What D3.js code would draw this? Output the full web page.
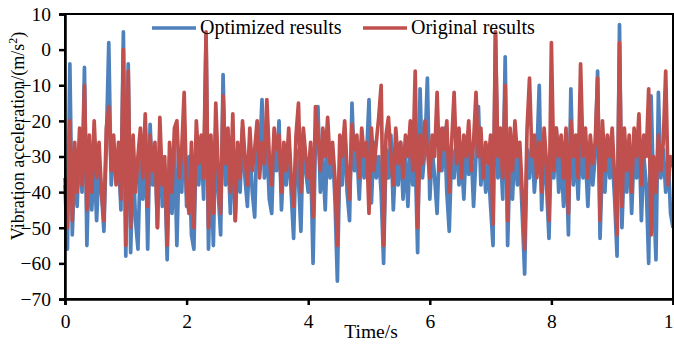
<!DOCTYPE html>
<html lang="en">
<head>
<meta charset="UTF-8">
<script src="https://cdn.jsdelivr.net/npm/d3@7"></script>
<style>
  body { margin: 0; background: #fff; }
  text { font-family: "Liberation Serif", "Times New Roman", serif; fill: #000; }
</style>
<title>vibration</title>
</head>
<body>
<svg width="674" height="348"></svg>
<script>
// time step 0.04 s, 0 .. 10 s
var timeStep = 0.04;
var optimized = [
  -38,-56,-4,-52,-30,-44,-25,-40,-5,-55,-28,-45,-30,-48,-32,-40,-51,-26,2,-38,-28,-36,-30,-45,5,
  -58,-4,-57,-30,-48,-56,-30,-42,-22,-56,-21,-38,-28,-50,-24,-44,-33,-59,-30,-46,-26,-55,-28,-40,-20,
  -44,-30,-52,-56,-24,-38,-26,-42,4,-56,-30,-55,-22,-40,-52,-7,-38,-28,-46,-24,-48,-30,-40,-22,-36,
  -44,-26,-40,-47,-22,-30,-14,-36,-26,-42,-46,-24,-34,-20,-45,-30,-38,-26,-40,-53,-28,-36,-51,-24,-34,
  -40,-30,-60,-24,-16,-40,-30,-45,-24,-36,-28,-42,-65,-30,-38,-22,-40,-48,-15,-34,-28,-42,-26,-36,-30,
  -14,-43,-26,-36,-30,-40,-60,-28,-36,-24,-45,-30,-38,-26,-42,-30,-44,-26,-38,-30,-57,-11,-36,-28,-8,
  -42,-28,-36,-46,-26,-34,-22,-40,-51,-28,-36,-24,-38,-30,-42,-26,-35,-28,-44,-30,-16,-38,-28,-40,-32,
  -44,-55,5,-36,-28,-42,-2,-55,-30,-42,-26,-38,-30,-46,-63,-28,-36,-24,-40,-30,-10,-45,-28,-38,-53,
  -26,-36,-22,-40,-30,-44,-28,-52,-11,-38,-28,-42,-24,-36,-30,-44,-28,-38,-30,-6,-53,-30,-40,-26,-36,
  -30,-42,-58,7,-50,-30,-40,-26,-46,-28,-36,-22,-48,-30,-38,-60,-13,-40,-59,-12,-36,-28,-40,-30,-46,
  -50
];
var original = [
  -36,-50,-20,-48,-26,-40,-22,-38,-10,-45,-24,-40,-20,-36,-26,-40,-48,-22,-16,-34,-24,-38,-26,-42,0,
  -55,-6,-50,-24,-40,-30,-22,-36,-18,-44,-24,-34,-26,-50,-19,-38,-30,-55,-26,-40,-22,-20,-36,-28,-12,
  -40,-46,-26,-50,-20,-32,-24,-36,5,-50,-24,-46,-15,-34,-46,-13,-32,-22,-40,-18,-48,-26,-36,-20,-30,
  -38,-22,-34,-28,-20,-36,-26,-32,-14,-30,-38,-22,-28,-24,-40,-26,-34,-22,-36,-44,-24,-15,-40,-22,-30,
  -36,-26,-47,-16,-24,-34,-22,-30,-19,-32,-26,-36,-55,-24,-30,-20,-34,-42,-21,-28,-24,-36,-22,-30,-26,
  -46,-22,-34,-26,-19,-10,-55,-24,-19,-30,-38,-22,-32,-26,-36,-24,-30,-20,-34,-6,-50,-24,-32,-20,-28,
  -36,-24,-30,-12,-34,-22,-28,-20,-40,-26,-12,-32,-22,-36,-24,-30,-20,-34,-26,-12,-30,-22,-36,-26,-32,
  -24,-49,5,-30,-22,-36,-10,-48,-22,-34,-20,-30,-26,-40,-56,-22,-8,-30,-24,-36,-26,-40,-22,-32,-48,
  2,-34,-22,-30,-24,-36,-22,-46,-20,-30,-24,-36,-4,-30,-22,-36,-24,-32,-26,-8,-48,-20,-34,-24,-30,
  -22,-36,-52,2,-44,-22,-34,-24,-40,-22,-30,-18,-38,-24,-30,-11,-52,-30,-40,-24,-34,-26,-6,-38,-30,
  -33
];
var seriesNames = ["Optimized results", "Original results"];
var seriesColors = ["#4f81bd", "#c0504d"];
var xTicks = [0, 2, 4, 6, 8, 10];
var yTicks = [10, 0, -10, -20, -30, -40, -50, -60, -70];

var svg = d3.select("svg");
var plotL = 65, plotR = 673, plotT = 14, plotB = 299;

var x = d3.scaleLinear().domain([0, 10]).range([plotL, plotR]);
var y = d3.scaleLinear().domain([-70, 10]).range([plotB, plotT]);

var line = d3.line()
    .x(function(d, i) { return x(i * timeStep); })
    .y(function(d) { return y(d); });

// lines, red drawn over blue
[optimized, original].forEach(function(s, k) {
    svg.append("path")
        .datum(s)
        .attr("fill", "none")
        .attr("stroke", seriesColors[k])
        .attr("stroke-width", 3.7)
        .attr("stroke-linejoin", "round")
        .attr("d", line);
});

// frame
svg.append("rect")
    .attr("x", plotL).attr("y", plotT)
    .attr("width", plotR - plotL).attr("height", plotB - plotT)
    .attr("fill", "none").attr("stroke", "#000").attr("stroke-width", 2);

var xAxis = svg.append("g")
    .attr("transform", "translate(0," + plotB + ")")
    .call(d3.axisBottom(x).tickValues(xTicks).tickSize(6).tickPadding(9));
var yAxis = svg.append("g")
    .attr("transform", "translate(" + plotL + ",0)")
    .call(d3.axisLeft(y).tickValues(yTicks).tickSize(6).tickPadding(8));
[xAxis, yAxis].forEach(function(a) {
    a.select(".domain").attr("stroke-width", 2.5);
    a.selectAll(".tick line").attr("stroke-width", 2.5);
    a.selectAll("text").attr("font-size", 19.5).attr("font-family", "Liberation Serif");
});

svg.append("text")
    .attr("x", 371).attr("y", 338)
    .attr("text-anchor", "middle")
    .attr("font-size", 19.5)
    .text("Time/s");

var yt = svg.append("text")
    .attr("transform", "translate(24,136) rotate(-90)")
    .attr("text-anchor", "middle")
    .attr("font-size", 18);
yt.append("tspan").text("Vibration acceleration/(m/s");
yt.append("tspan").attr("font-size", 12).attr("dy", -7).text("2");
yt.append("tspan").attr("dy", 7).text(")");

// legend
var legendX = [152, 363];
seriesNames.forEach(function(n, k) {
    svg.append("line")
        .attr("x1", legendX[k]).attr("x2", legendX[k] + 44)
        .attr("y1", 28).attr("y2", 28)
        .attr("stroke", seriesColors[k]).attr("stroke-width", 3.5);
    svg.append("text")
        .attr("x", legendX[k] + 48).attr("y", 34)
        .attr("font-size", 20)
        .text(n);
});
</script>
</body>
</html>
